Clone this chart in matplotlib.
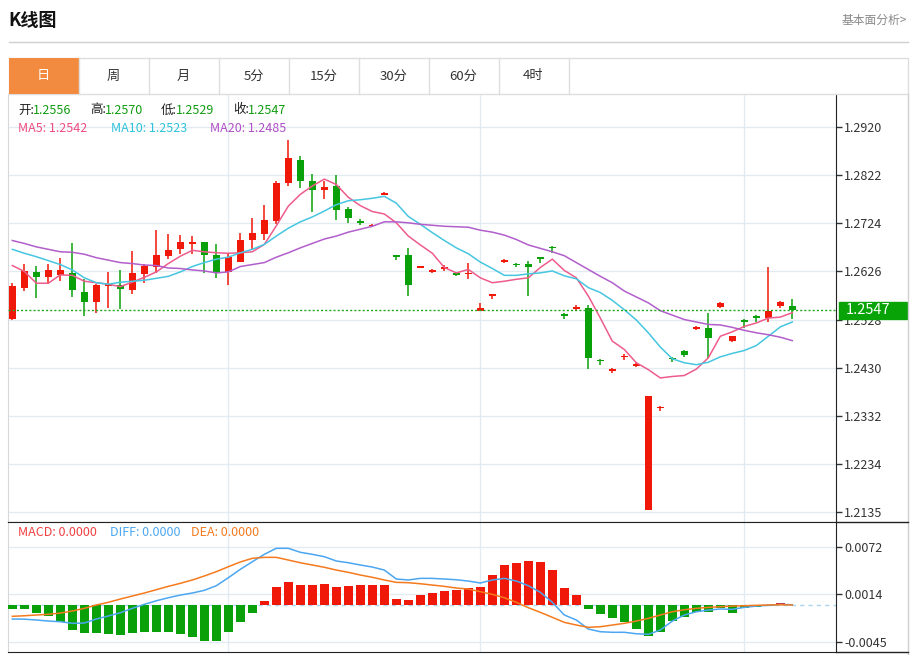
import matplotlib
matplotlib.use("Agg")
import matplotlib.pyplot as plt
from matplotlib.patches import Rectangle
from matplotlib import transforms

plt.rcParams['font.family'] = ['Noto Sans CJK SC', 'DejaVu Sans']

# daily candles (open, high, low, close)
opens = [1.2529, 1.2593, 1.2625, 1.2614, 1.2618, 1.2623, 1.2585, 1.2563, 1.2597, 1.2598,
         1.2588, 1.2621, 1.2635, 1.2658, 1.2672, 1.2682, 1.2685, 1.2660, 1.2625, 1.2646,
         1.2689, 1.2702, 1.2729, 1.2807, 1.2853, 1.2810, 1.2791, 1.2799, 1.2753, 1.2728,
         1.2719, 1.2782, 1.2659, 1.2659, 1.2633, 1.2625, 1.2630, 1.2623, 1.2620, 1.2546,
         1.2576, 1.2646, 1.2642, 1.2642, 1.2655, 1.2676, 1.2540, 1.2549, 1.2551, 1.2446,
         1.2423, 1.2451, 1.2433, 1.2140, 1.2348, 1.2449, 1.2464, 1.2509, 1.2511, 1.2553,
         1.2485, 1.2527, 1.2535, 1.2532, 1.2555, 1.2556]
highs = [1.2603, 1.2642, 1.2638, 1.2642, 1.2654, 1.2683, 1.2610, 1.2600, 1.2625, 1.2629,
         1.2668, 1.2642, 1.2710, 1.2702, 1.2700, 1.2698, 1.2686, 1.2681, 1.2663, 1.2705,
         1.2734, 1.2761, 1.2810, 1.2893, 1.2861, 1.2824, 1.2810, 1.2823, 1.2758, 1.2732,
         1.2722, 1.2787, 1.2660, 1.2674, 1.2638, 1.2630, 1.2640, 1.2624, 1.2644, 1.2562,
         1.2581, 1.2651, 1.2643, 1.2648, 1.2656, 1.2677, 1.2541, 1.2557, 1.2558, 1.2447,
         1.2430, 1.2457, 1.2442, 1.2373, 1.2351, 1.2452, 1.2465, 1.2514, 1.2542, 1.2563,
         1.2495, 1.2529, 1.2538, 1.2634, 1.2565, 1.2570]
lows = [1.2528, 1.2586, 1.2571, 1.2601, 1.2606, 1.2573, 1.2535, 1.2542, 1.2552, 1.2550,
        1.2579, 1.2603, 1.2623, 1.2651, 1.2661, 1.2661, 1.2622, 1.2613, 1.2599, 1.2646,
        1.2671, 1.2691, 1.2722, 1.2800, 1.2795, 1.2747, 1.2774, 1.2731, 1.2725, 1.2721,
        1.2718, 1.2781, 1.2649, 1.2576, 1.2632, 1.2622, 1.2627, 1.2616, 1.2610, 1.2546,
        1.2569, 1.2644, 1.2635, 1.2576, 1.2644, 1.2664, 1.2530, 1.2545, 1.2427, 1.2436,
        1.2420, 1.2445, 1.2431, 1.2140, 1.2342, 1.2442, 1.2451, 1.2506, 1.2449, 1.2552,
        1.2483, 1.2510, 1.2522, 1.2522, 1.2552, 1.2529]
closes = [1.2597, 1.2627, 1.2614, 1.2629, 1.2628, 1.2589, 1.2563, 1.2599, 1.2599, 1.2591,
          1.2622, 1.2638, 1.2660, 1.2669, 1.2685, 1.2685, 1.2659, 1.2623, 1.2655, 1.2691,
          1.2705, 1.2730, 1.2807, 1.2857, 1.2810, 1.2791, 1.2798, 1.2751, 1.2734, 1.2725,
          1.2721, 1.2785, 1.2655, 1.2598, 1.2637, 1.2629, 1.2636, 1.2618, 1.2623, 1.2552,
          1.2580, 1.2649, 1.2639, 1.2636, 1.2651, 1.2674, 1.2535, 1.2554, 1.2449, 1.2443,
          1.2427, 1.2454, 1.2438, 1.2373, 1.2350, 1.2447, 1.2455, 1.2512, 1.2491, 1.2561,
          1.2494, 1.2522, 1.2531, 1.2546, 1.2563, 1.2547]

ma5 = [1.2638, 1.2626, 1.2602, 1.2602, 1.2619, 1.2618, 1.2606, 1.2603, 1.2600, 1.2595,
       1.2604, 1.2614, 1.2625, 1.2642, 1.2657, 1.2669, 1.2666, 1.2664, 1.2663, 1.2664,
       1.2666, 1.2681, 1.2719, 1.2759, 1.2783, 1.2800, 1.2814, 1.2803, 1.2777, 1.2760,
       1.2748, 1.2743, 1.2725, 1.2698, 1.2680, 1.2663, 1.2634, 1.2623, 1.2630, 1.2613,
       1.2603, 1.2606, 1.2610, 1.2613, 1.2634, 1.2651, 1.2628, 1.2613, 1.2576, 1.2531,
       1.2484, 1.2467, 1.2440, 1.2426, 1.2409, 1.2412, 1.2414, 1.2427, 1.2450, 1.2494,
       1.2503, 1.2514, 1.2521, 1.2531, 1.2533, 1.2542]
ma10 = [1.2671, 1.2663, 1.2656, 1.2648, 1.2640, 1.2629, 1.2613, 1.2603, 1.2600, 1.2604,
        1.2606, 1.2608, 1.2612, 1.2616, 1.2625, 1.2636, 1.2644, 1.2651, 1.2655, 1.2664,
        1.2671, 1.2681, 1.2698, 1.2714, 1.2727, 1.2737, 1.2749, 1.2762, 1.2770, 1.2772,
        1.2775, 1.2779, 1.2765, 1.2738, 1.2722, 1.2705, 1.2689, 1.2674, 1.2662, 1.2645,
        1.2632, 1.2618, 1.2618, 1.2621, 1.2623, 1.2627, 1.2617, 1.2611, 1.2593, 1.2583,
        1.2567, 1.2548, 1.2527, 1.2501, 1.2472, 1.2448, 1.2440, 1.2436, 1.2441, 1.2452,
        1.2459, 1.2465, 1.2475, 1.2494, 1.2513, 1.2523]
ma20 = [1.2689, 1.2683, 1.2676, 1.2671, 1.2666, 1.2665, 1.2661, 1.2654, 1.2649, 1.2644,
        1.2642, 1.2639, 1.2638, 1.2633, 1.2632, 1.2629, 1.2627, 1.2623, 1.2625, 1.2636,
        1.2640, 1.2644, 1.2655, 1.2664, 1.2674, 1.2683, 1.2692, 1.2698, 1.2706, 1.2712,
        1.2718, 1.2727, 1.2727, 1.2725, 1.2722, 1.2720, 1.2718, 1.2717, 1.2716, 1.2710,
        1.2706, 1.2700, 1.2691, 1.2680, 1.2673, 1.2666, 1.2658, 1.2644, 1.2630, 1.2616,
        1.2603, 1.2586, 1.2574, 1.2562, 1.2546, 1.2537, 1.2528, 1.2523, 1.2518, 1.2517,
        1.2512, 1.2506, 1.2501, 1.2497, 1.2492, 1.2485]

macd_hist = [-0.00049, -0.00050, -0.00098, -0.00131, -0.00209, -0.00299, -0.00344, -0.00336,
             -0.00356, -0.00365, -0.00336, -0.00328, -0.00324, -0.00331, -0.00349, -0.00393,
             -0.00438, -0.00435, -0.00324, -0.00209, -0.00091, 0.00053, 0.00221, 0.00282,
             0.00249, 0.00249, 0.00258, 0.00225, 0.00233, 0.00246, 0.00253, 0.00246,
             0.00081, 0.00061, 0.00130, 0.00151, 0.00176, 0.00188, 0.00216, 0.00225,
             0.00368, 0.00498, 0.00523, 0.00540, 0.00528, 0.00437, 0.00212, 0.00126,
             -0.00049, -0.00103, -0.00160, -0.00201, -0.00287, -0.00373, -0.00331, -0.00189,
             -0.00147, -0.00079, -0.00079, -0.00037, -0.00091, -0.00037, -0.00017, -0.00009,
             0.00025, 0.00002]
diff = [-0.00168, -0.00170, -0.00180, -0.00193, -0.00201, -0.00221, -0.00217, -0.00168,
        -0.00131, -0.00091, -0.00037, 0.00012, 0.00056, 0.00093, 0.00126, 0.00151,
        0.00184, 0.00241, 0.00339, 0.00442, 0.00535, 0.00626, 0.00700, 0.00700,
        0.00651, 0.00626, 0.00597, 0.00544, 0.00523, 0.00495, 0.00470, 0.00433,
        0.00323, 0.00311, 0.00331, 0.00331, 0.00323, 0.00314, 0.00298, 0.00274,
        0.00311, 0.00331, 0.00298, 0.00241, 0.00160, 0.00037, -0.00119, -0.00180,
        -0.00291, -0.00324, -0.00331, -0.00331, -0.00349, -0.00356, -0.00303, -0.00193,
        -0.00119, -0.00079, -0.00058, -0.00045, -0.00049, -0.00025, -0.00009, 0.00000,
        0.00012, 0.00007]
dea = [-0.00135, -0.00128, -0.00119, -0.00110, -0.00095, -0.00070, -0.00037, 0.00004,
       0.00037, 0.00077, 0.00114, 0.00151, 0.00192, 0.00233, 0.00270, 0.00311,
       0.00360, 0.00413, 0.00474, 0.00532, 0.00577, 0.00589, 0.00589, 0.00556,
       0.00523, 0.00495, 0.00467, 0.00433, 0.00405, 0.00372, 0.00344, 0.00311,
       0.00282, 0.00278, 0.00265, 0.00249, 0.00233, 0.00212, 0.00200, 0.00167,
       0.00135, 0.00093, 0.00037, -0.00029, -0.00086, -0.00147, -0.00209, -0.00242,
       -0.00270, -0.00263, -0.00242, -0.00221, -0.00193, -0.00160, -0.00119, -0.00079,
       -0.00054, -0.00037, -0.00025, -0.00017, -0.00009, -0.00005, 0.00000, 0.00004,
       0.00007, 0.00004]

price_ticks = [1.2135, 1.2234, 1.2332, 1.2430, 1.2528, 1.2626, 1.2724, 1.2822, 1.2920]
macd_ticks = [-0.0045, 0.0014, 0.0072]
tabs = ['日', '周', '月', '5分', '15分', '30分', '60分', '4时']
month_marks = [18, 39, 61]

RED = '#f01808'
GREEN = '#0aa00a'
GRID = '#e2ebf2'
W, H = 913, 655

fig = plt.figure(figsize=(W / 100, H / 100), dpi=100)
fig.patch.set_facecolor('white')


def frac(x0, y0, x1, y1):
    # pixel box (top-left origin) -> figure fraction rect
    return [x0 / W, 1 - y1 / H, (x1 - x0) / W, (y1 - y0) / H]


def style_axis(a):
    a.set_xticks(month_marks)
    a.set_xticklabels([])
    a.tick_params(axis='x', length=0)
    a.yaxis.tick_right()
    a.tick_params(axis='y', length=4, width=1, color='#333333', labelsize=9,
                  labelcolor='#333333', pad=2)
    a.grid(True, color=GRID, lw=1)
    a.set_axisbelow(True)
    a.spines['left'].set_color('#d8d8d8')
    a.spines['right'].set_color('#222222')
    a.spines['top'].set_color('#222222')
    a.spines['bottom'].set_color('#222222')


n = len(opens)
xs = list(range(n))
xlim = (-0.36, 68.64)

# ---- main candlestick panel
ax = fig.add_axes(frac(8, 94, 836, 522))
ax.set_xlim(*xlim)
ax.set_ylim(1.21156, 1.29874)
for i in xs:
    o, c = opens[i], closes[i]
    col = RED if c >= o else GREEN
    ax.vlines(i, lows[i], highs[i], color=col, lw=1.1, zorder=2)
    h = max(abs(c - o), 0.00025)
    ax.bar(i, h, bottom=min(o, c), width=0.62, color=col, lw=0, zorder=3)
ax.plot(xs, ma5, color='#ee5c8c', lw=1.1, zorder=4)
ax.plot(xs, ma10, color='#46c6e0', lw=1.1, zorder=4)
ax.plot(xs, ma20, color='#b25ecb', lw=1.1, zorder=4)
ax.axhline(closes[-1], color='#23a823', lw=1, ls=(0, (1.5, 1.5)), zorder=5)
ax.set_yticks(price_ticks)
ax.set_yticklabels(['%.4f' % t for t in price_ticks])
style_axis(ax)
ax.spines['top'].set_visible(False)

# current price tag (covers the 1.2528 label like the original)
tr = transforms.blended_transform_factory(ax.transAxes, ax.transData)
ax.add_patch(Rectangle((1.0035, closes[-1] - 0.00175), 68 / 828, 0.0035,
                       transform=tr, color='#07a307', clip_on=False, zorder=10))
ax.text(1.0035 + 7 / 828, closes[-1], '%.4f' % closes[-1], transform=tr,
        color='white', fontsize=10.5, va='center', ha='left', zorder=11)

# ---- MACD panel
ax2 = fig.add_axes(frac(8, 522, 836, 652))
ax2.set_xlim(*xlim)
ax2.set_ylim(-0.00573, 0.01023)
bar_cols = [RED if v >= 0 else GREEN for v in macd_hist]
ax2.bar(xs, macd_hist, width=0.72, color=bar_cols, lw=0, zorder=3)
ax2.axhline(0, color='#a8d6ef', lw=1, ls=(0, (3, 3)), zorder=2)
ax2.plot(xs, diff, color='#4ca6f0', lw=1.1, zorder=4)
ax2.plot(xs, dea, color='#f57a1e', lw=1.1, zorder=4)
ax2.set_yticks(macd_ticks)
ax2.set_yticklabels(['%.4f' % t for t in macd_ticks])
style_axis(ax2)

# ---- page chrome, drawn in pixel coordinates
ov = fig.add_axes([0, 0, 1, 1], zorder=20)
ov.set_xlim(0, W)
ov.set_ylim(H, 0)
ov.axis('off')
ov.patch.set_alpha(0)

ov.text(8, 20, 'K线图', fontsize=13, fontweight='bold', color='#111111',
        va='center', ha='left')
ov.text(907, 20, '基本面分析>', fontsize=8.5, color='#888888', va='center', ha='right')
ov.plot([9, 908], [41.5, 41.5], color='#cfcfcf', lw=1)

# tab bar
ov.add_patch(Rectangle((8.5, 57.5), 899, 36, fill=False, ec='#dedede', lw=1))
for k, lab in enumerate(tabs):
    x0 = 8.5 + 70 * k
    if k == 0:
        ov.add_patch(Rectangle((x0, 57.5), 70, 36, color='#f28b3f', lw=0))
    ov.plot([x0 + 70, x0 + 70], [57.5, 93.5], color='#dedede', lw=1)
    ov.text(x0 + 35, 76, lab, fontsize=9.5, ha='center', va='center',
            color='white' if k == 0 else '#333333')

# frame lines around the chart region
ov.plot([907.5, 907.5], [94, 655], color='#cfcfcf', lw=1)
ov.plot([836, 907.5], [522, 522], color='#222222', lw=1)
ov.plot([836, 907.5], [652, 652], color='#222222', lw=1)

# OHLC info line
info_y = 110
for x, lab, val in [(18, '开:', opens[-1]), (90, '高:', highs[-1]),
                    (161, '低:', lows[-1]), (233, '收:', closes[-1])]:
    ov.text(x, info_y, lab, fontsize=9, color='#222222', va='center')
    ov.text(x + 15, info_y, '%.4f' % val, fontsize=9, color='#109d10', va='center')

ma_y = 128
ov.text(18, ma_y, 'MA5: %.4f' % ma5[-1], fontsize=9, color='#ee4d80', va='center')
ov.text(111, ma_y, 'MA10: %.4f' % ma10[-1], fontsize=9, color='#2ec2dc', va='center')
ov.text(210, ma_y, 'MA20: %.4f' % ma20[-1], fontsize=9, color='#b04fc6', va='center')

macd_y = 533
ov.text(18, macd_y, 'MACD: 0.0000', fontsize=9, color='#f04040', va='center')
ov.text(110, macd_y, 'DIFF: 0.0000', fontsize=9, color='#4ca6f0', va='center')
ov.text(191, macd_y, 'DEA: 0.0000', fontsize=9, color='#f57a1e', va='center')

fig.savefig('out.png', dpi=100, facecolor='white')
